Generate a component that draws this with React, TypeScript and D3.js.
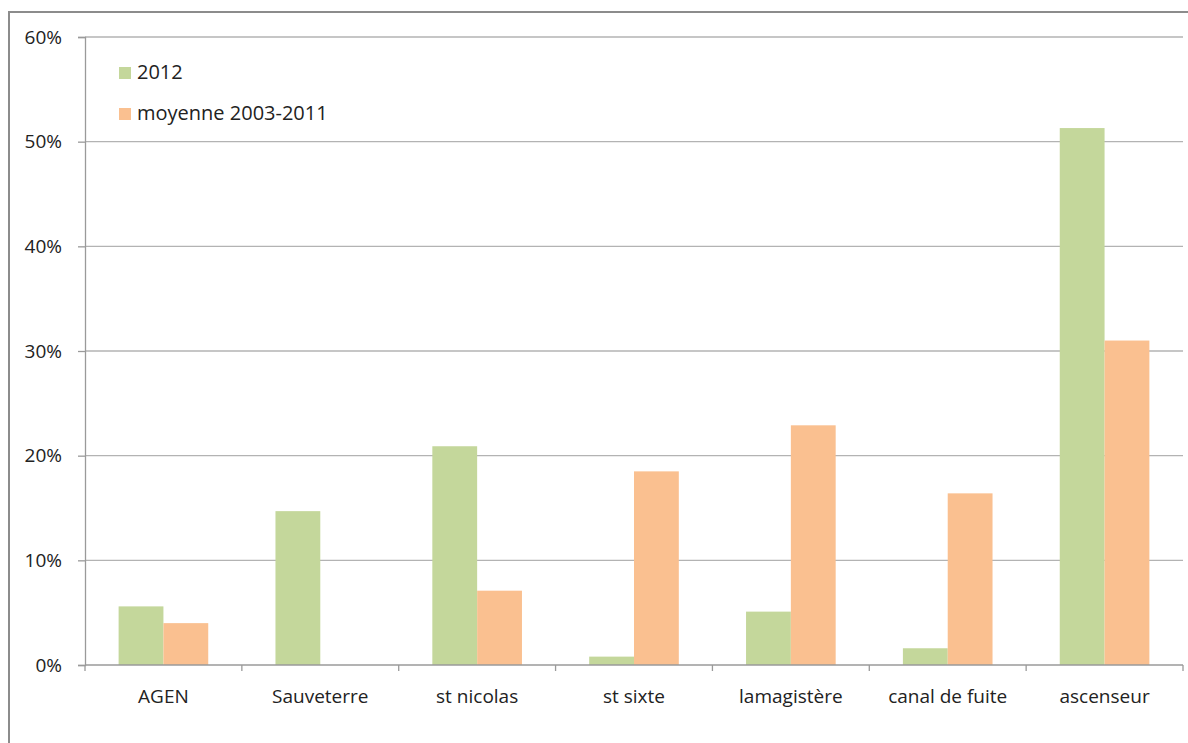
import React, { useEffect, useRef } from 'react';
import * as d3 from 'd3';

const categories = ['AGEN', 'Sauveterre', 'st nicolas', 'st sixte', 'lamagistère', 'canal de fuite', 'ascenseur'];
const series2012 = [0.056, 0.147, 0.209, 0.008, 0.051, 0.016, 0.513];
const seriesMoyenne = [0.040, 0, 0.071, 0.185, 0.229, 0.164, 0.310];
const seriesNames = ['2012', 'moyenne 2003-2011'];
const seriesColors = ['#C4D79B', '#FAC090'];
const yTicks = [0, 0.1, 0.2, 0.3, 0.4, 0.5, 0.6];

const W = 1188;
const H = 743;

const App: React.FC = () => {
  const svgRef = useRef<SVGSVGElement>(null);

  useEffect(() => {
    if (!svgRef.current) return;
    const root = d3.select(svgRef.current);
    root.selectAll('*').remove();

    const font = 'Open Sans, Noto Sans, sans-serif';
    const fs = 19;

    // outer chart border
    root.append('rect')
      .attr('x', 9).attr('y', 12)
      .attr('width', W + 20).attr('height', H + 20)
      .attr('fill', '#fff')
      .attr('stroke', '#8c8c8c')
      .attr('stroke-width', 2);

    const margin = { top: 37, right: 5, bottom: 78, left: 85 };
    const width = W - margin.left - margin.right;
    const height = H - margin.top - margin.bottom;

    const g = root.append('g').attr('transform', `translate(${margin.left},${margin.top})`);

    const x = d3.scaleBand().domain(categories).range([0, width]).paddingInner(0).paddingOuter(0);
    const y = d3.scaleLinear().domain([0, 0.6]).range([height, 0]);

    // gridlines
    g.selectAll('line.grid')
      .data(yTicks.filter(t => t > 0))
      .enter().append('line')
      .attr('x1', 0).attr('x2', width)
      .attr('y1', d => y(d)).attr('y2', d => y(d))
      .attr('stroke', '#b3b3b3').attr('stroke-width', 1.3);

    // bars
    const bw = x.bandwidth() / 3.5;
    const data = [series2012, seriesMoyenne];
    data.forEach((vals, si) => {
      g.selectAll(`rect.s${si}`)
        .data(vals)
        .enter().append('rect')
        .attr('x', (_, i) => (x(categories[i]) as number) + bw * 0.75 + si * bw)
        .attr('y', d => y(d))
        .attr('width', bw)
        .attr('height', d => height - y(d))
        .attr('fill', seriesColors[si]);
    });

    // y axis
    const yAxis = g.append('g').call(
      d3.axisLeft(y).tickValues(yTicks).tickSize(7).tickPadding(16).tickFormat(d => `${Math.round(+d * 100)}%`)
    );
    yAxis.select('.domain').attr('stroke', '#9a9a9a').attr('stroke-width', 1.3);
    yAxis.selectAll('.tick line').attr('stroke', '#9a9a9a').attr('stroke-width', 1.3);
    yAxis.selectAll('.tick text').attr('font-family', font).attr('font-size', fs).attr('fill', '#222');

    // x axis
    const xAxis = g.append('g').attr('transform', `translate(0,${height})`);
    xAxis.append('line').attr('x1', 0).attr('x2', width).attr('stroke', '#9a9a9a').attr('stroke-width', 1.3);
    const bounds = categories.map(c => x(c) as number).concat([width]);
    xAxis.selectAll('line.tk').data(bounds).enter().append('line')
      .attr('x1', d => d).attr('x2', d => d).attr('y1', 0).attr('y2', 6)
      .attr('stroke', '#9a9a9a').attr('stroke-width', 1.3);
    xAxis.selectAll('text').data(categories).enter().append('text')
      .attr('x', d => (x(d) as number) + x.bandwidth() / 2)
      .attr('y', 38)
      .attr('text-anchor', 'middle')
      .attr('font-family', font).attr('font-size', fs).attr('fill', '#222')
      .text(d => d);

    // legend
    const legend = root.append('g').attr('transform', 'translate(119,67)');
    seriesNames.forEach((name, i) => {
      const row = legend.append('g').attr('transform', `translate(0,${i * 41})`);
      row.append('rect').attr('width', 12).attr('height', 12).attr('fill', seriesColors[i]);
      row.append('text').attr('x', 18).attr('y', 12)
        .attr('font-family', font).attr('font-size', 20).attr('fill', '#222')
        .text(name);
    });
  }, []);

  return (
    <svg ref={svgRef} width={W} height={H} style={{ position: 'absolute', left: 0, top: 0, background: '#fff' }} />
  );
};

export default App;
